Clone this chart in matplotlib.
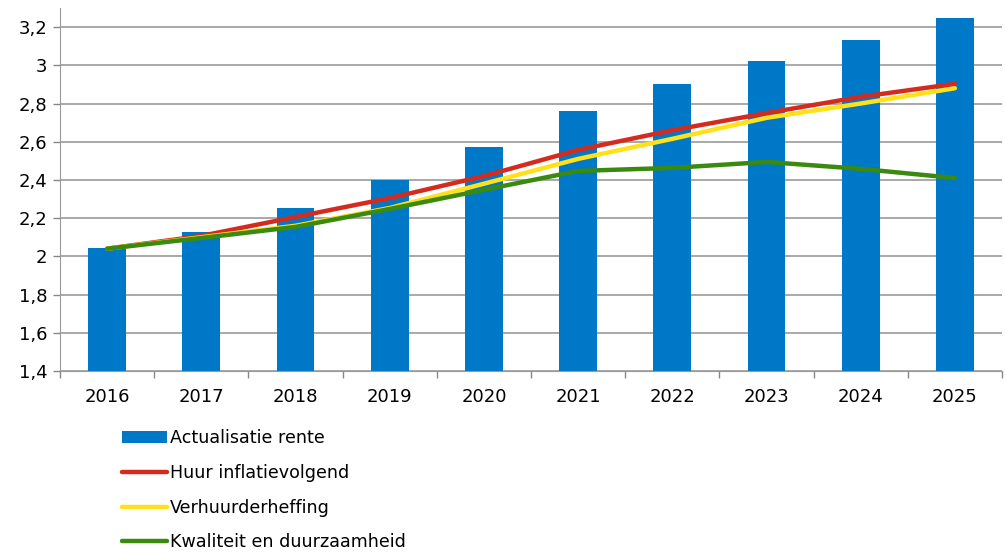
import matplotlib
matplotlib.use("Agg")
import matplotlib.pyplot as plt
from matplotlib.ticker import FuncFormatter, FixedLocator

# Data
years = ["2016", "2017", "2018", "2019", "2020", "2021", "2022", "2023", "2024", "2025"]
actualisatie_rente = [2.044, 2.128, 2.253, 2.40, 2.573, 2.761, 2.903, 3.023, 3.133, 3.248]
huur_inflatievolgend = [2.04, 2.107, 2.206, 2.305, 2.42, 2.557, 2.66, 2.75, 2.835, 2.903]
verhuurderheffing = [2.04, 2.10, 2.16, 2.253, 2.38, 2.51, 2.615, 2.725, 2.80, 2.88]
kwaliteit_duurzaamheid = [2.04, 2.096, 2.154, 2.248, 2.348, 2.447, 2.463, 2.494, 2.458, 2.41]
y_ticks = [1.4, 1.6, 1.8, 2.0, 2.2, 2.4, 2.6, 2.8, 3.0, 3.2]

plt.rcParams['font.family'] = ['DejaVu Sans']

fig = plt.figure(figsize=(10.05, 5.52), dpi=100)
ax = fig.add_axes([0.0597, 0.328, 0.9373, 0.6575])

x = list(range(len(years)))
bars = ax.bar(x, actualisatie_rente, width=0.4, color='#0078C8', label='Actualisatie rente', zorder=2)
l1, = ax.plot(x, huur_inflatievolgend, color='#D52B1E', lw=3.2, label='Huur inflatievolgend',
              solid_capstyle='round', zorder=3)
l2, = ax.plot(x, verhuurderheffing, color='#FFE11A', lw=3.2, label='Verhuurderheffing',
              solid_capstyle='round', zorder=4)
l3, = ax.plot(x, kwaliteit_duurzaamheid, color='#3A8A10', lw=3.2, label='Kwaliteit en duurzaamheid',
              solid_capstyle='round', zorder=5)

ax.set_xlim(-0.5, len(years) - 0.5)
ax.set_ylim(1.4, 3.3)
ax.set_yticks(y_ticks)
ax.yaxis.set_major_formatter(FuncFormatter(lambda v, p: f"{v:g}".replace('.', ',')))
ax.set_xticks(x)
ax.set_xticklabels(years)
ax.xaxis.set_minor_locator(FixedLocator([i - 0.5 for i in range(len(years) + 1)]))
ax.tick_params(axis='x', which='major', length=0, pad=12, labelsize=13)
ax.tick_params(axis='x', which='minor', length=5, color='#888888', width=1)
ax.tick_params(axis='y', length=5, color='#888888', width=1, labelsize=13, pad=4)

ax.grid(axis='y', color='#999999', lw=1.2, zorder=0)
for side in ['top', 'right']:
    ax.spines[side].set_visible(False)
for side in ['left', 'bottom']:
    ax.spines[side].set_color('#999999')

fig.legend([bars, l1, l2, l3],
           ['Actualisatie rente', 'Huur inflatievolgend', 'Verhuurderheffing',
            'Kwaliteit en duurzaamheid'],
           loc='upper left', bbox_to_anchor=(0.121, 0.222),
           frameon=False, fontsize=12.6, handlelength=2.6, handletextpad=0.15,
           labelspacing=0.95, borderaxespad=0, borderpad=0)

fig.savefig("out.png", dpi=100)
